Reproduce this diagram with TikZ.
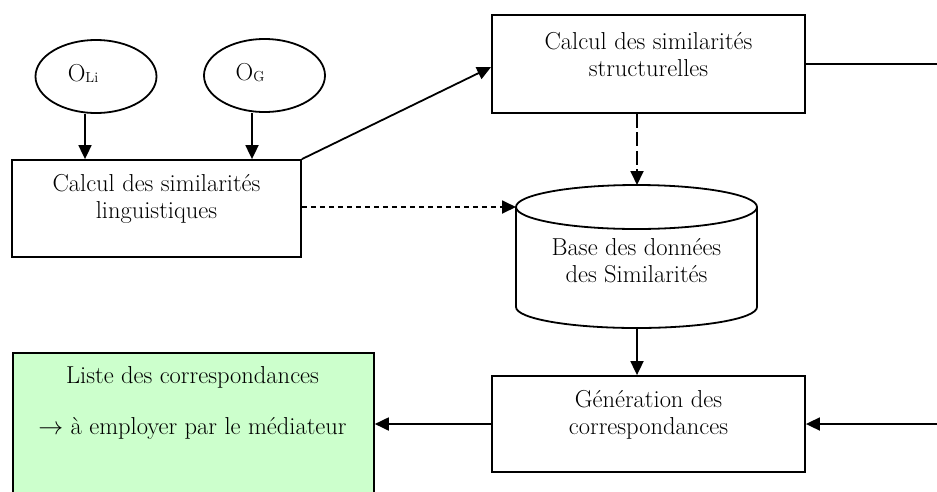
\documentclass[tikz,border=0pt]{standalone}
\usepackage{fontspec}
\usetikzlibrary{arrows.meta,shapes.geometric}
\begin{document}
\begin{tikzpicture}[x=1pt,y=-1pt,
  line width=1.8pt,
  every node/.style={font=\fontsize{24.5}{27}\selectfont},
  box/.style={draw, rectangle, inner sep=0pt},
  oval/.style={draw, ellipse, inner sep=0pt, minimum width=121pt, minimum height=73pt},
  txt/.style={align=center, inner sep=0pt},
  arr/.style={-{Triangle[length=14pt,width=13pt]}},
  shortdash/.style={dash pattern=on 5.5pt off 3.5pt},
  longdash/.style={dash pattern=on 14pt off 4.5pt}
]
\clip (0,0) rectangle (937,491);
\fill[white] (0,0) rectangle (937,491);

% ontologies
\node[oval] (oli) at (96,76.5) {};
\node[txt] (olitxt) at (83,73) {O\raisebox{-1pt}{\fontsize{14.5}{14.5}\selectfont Li}};
\node[oval] (og) at (264.5,75.5) {};
\node[txt] (ogtxt) at (250,73) {O\raisebox{-1pt}{\fontsize{14.5}{14.5}\selectfont G}};

% processing boxes
\node[box, minimum width=289pt, minimum height=97pt] (ling) at (156.5,208.5) {};
\node[txt] (lingtxt) at ([yshift=10pt]ling.center) {Calcul des similarités\\linguistiques};

\node[box, minimum width=313pt, minimum height=98pt] (struct) at (648.5,64) {};
\node[txt] (structtxt) at ([yshift=9pt]struct.center) {Calcul des similarités\\structurelles};

\node[box, minimum width=313pt, minimum height=96pt] (gen) at (648.5,424) {};
\node[txt] (gentxt) at ([yshift=9pt]gen.center) {Génération des\\correspondances};

% result list
\node[box, fill={rgb,255:red,204;green,255;blue,204}, minimum width=361pt, minimum height=180pt, anchor=north west] (list) at (12,352) {};
\node[txt] (listtxt) at (192.5,402.5) {Liste des correspondances\\[24pt]$\rightarrow$ à employer par le médiateur};

% similarity database (cylinder)
\coordinate (dbN) at (637,185);
\coordinate (dbW) at (516,207);
\coordinate (dbS) at (637,328);
\draw[fill=white] (516,207) -- (516,307) arc[start angle=180, end angle=360, x radius=120.5pt, y radius=21pt]
  -- (757,207);
\draw (636.5,207) ellipse[x radius=120.5pt, y radius=22pt];
\node[txt] (dbtxt) at (636.5,260.5) {Base des données\\des Similarités};

% outer connections
\coordinate (outA) at (937,64);
\coordinate (outB) at (937,424);

% connectors
\draw[arr] ([xshift=-11pt]oli.south) -- ([xshift=-11pt]oli.south |- ling.north);
\draw[arr] ([xshift=-12.5pt]og.south) -- ([xshift=-12.5pt]og.south |- ling.north);
\draw[arr] (ling.north east) -- ([yshift=-3pt]struct.west);
\draw[arr, longdash] (struct.south -| dbN) -- (dbN);
\draw[arr, shortdash] (ling.east |- dbW) -- (dbW);
\draw[arr] (dbS) -- (gen.north -| dbS);
\draw (struct.east) -- (outA);
\draw[arr] (outB) -- (gen.east);
\draw[arr] (gen.west) -- (gen.west -| list.east);
\end{tikzpicture}
\end{document}
